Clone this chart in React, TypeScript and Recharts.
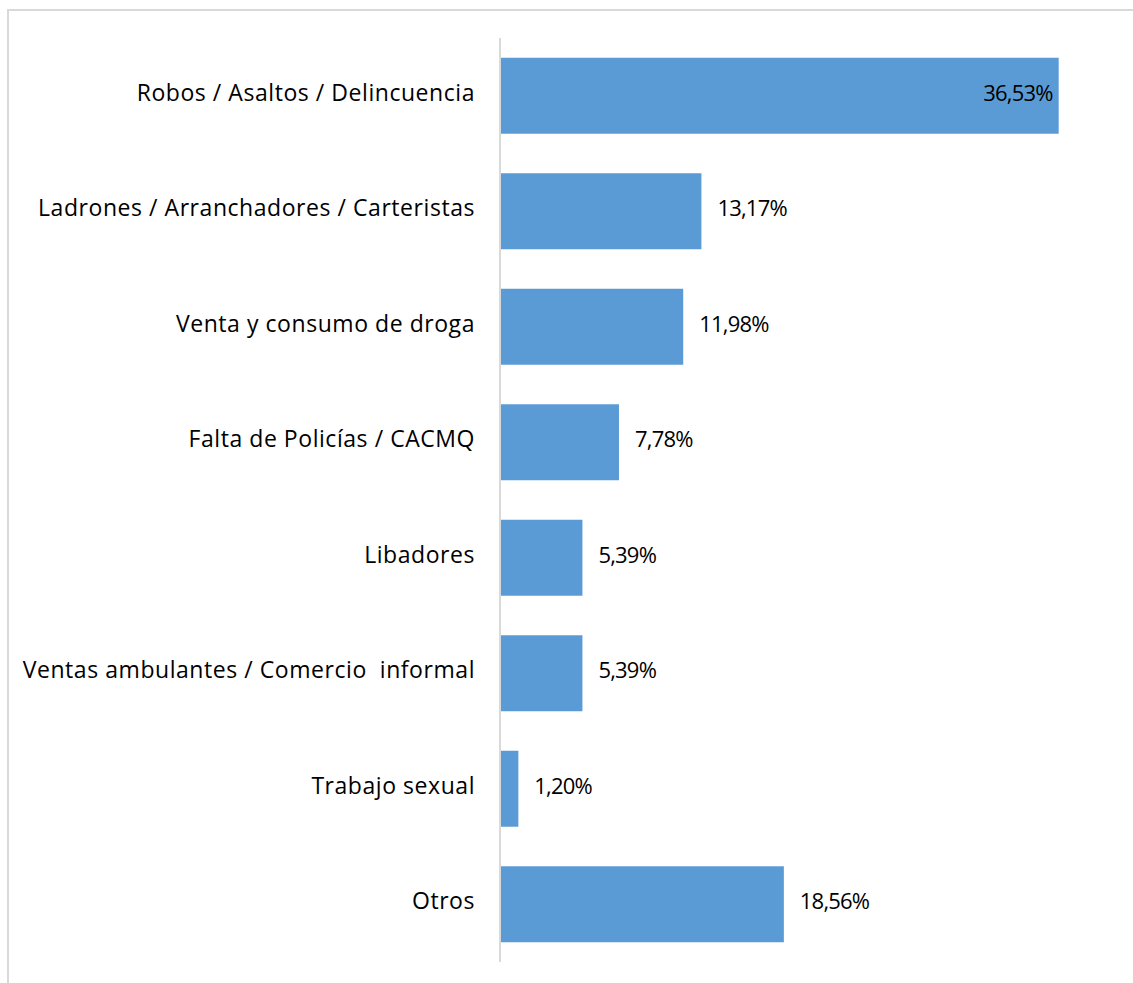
import { BarChart, Bar, XAxis, YAxis, LabelList } from 'recharts';

const categories = [
    'Robos / Asaltos / Delincuencia',
    'Ladrones / Arranchadores / Carteristas',
    'Venta y consumo de droga',
    'Falta de Policías / CACMQ',
    'Libadores',
    'Ventas ambulantes / Comercio  informal',
    'Trabajo sexual',
    'Otros',
];
const values = [36.53, 13.17, 11.98, 7.78, 5.39, 5.39, 1.2, 18.56];

const data = categories.map((name, i) => ({ name, value: values[i] }));

const FONT = '"Open Sans", Lato, sans-serif';
const fmt = (v: number) => v.toFixed(2).replace('.', ',') + '%';

function CategoryTick(props: any) {
    const { x, y, payload } = props;
    return (
        <text x={x} y={y} dy={5} textAnchor="end" fontSize={23} letterSpacing={0.55} fontFamily={FONT} fill="#000">
            {payload.value.replace(/  /g, '\u00a0 ')}
        </text>
    );
}

function ValueLabel(props: any) {
    const { x, y, width, height, value, index } = props;
    const inside = index === 0;
    return (
        <text
            x={inside ? x + width - 6 : x + width + 16}
            y={y + height / 2}
            dy={5}
            textAnchor={inside ? 'end' : 'start'}
            fontSize={22}
            fontFamily={FONT}
            letterSpacing={-0.8}
            fill="#000"
        >
            {fmt(value)}
        </text>
    );
}

export default function App() {
    return (
        <div style={{ position: 'absolute', left: 0, top: 0, width: 1133, height: 983, background: '#fff', overflow: 'hidden' }}>
            {/* chart frame, only top and left edges are visible */}
            <div style={{ position: 'absolute', left: 7, top: 9, width: 1200, height: 1100, borderTop: '2px solid #d9d9d9', borderLeft: '2px solid #d9d9d9' }} />
            <div style={{ position: 'absolute', left: 0, top: 0 }}>
                <BarChart
                    width={1133}
                    height={983}
                    data={data}
                    layout="vertical"
                    margin={{ top: 38, right: 22, bottom: 21, left: 0 }}
                    barCategoryGap="17%"
                >
                    <XAxis type="number" domain={[0, 39.95]} hide />
                    <YAxis
                        type="category"
                        dataKey="name"
                        width={500}
                        tickLine={false}
                        tickSize={0}
                        tickMargin={25}
                        axisLine={{ stroke: '#d9d9d9', strokeWidth: 2 }}
                        tick={<CategoryTick />}
                        interval={0}
                    />
                    <Bar dataKey="value" fill="#5b9bd5" isAnimationActive={false}>
                        <LabelList dataKey="value" content={<ValueLabel />} />
                    </Bar>
                </BarChart>
            </div>
        </div>
    );
}
